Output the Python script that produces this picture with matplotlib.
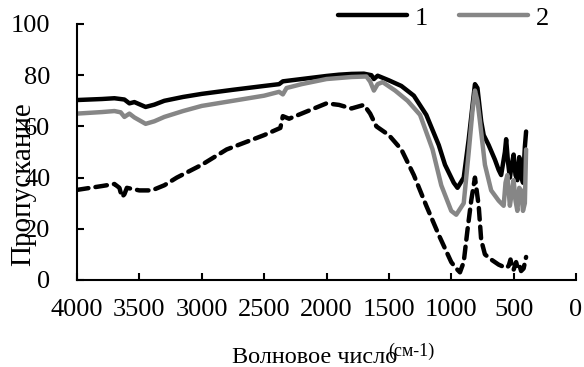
import numpy as np
import matplotlib
matplotlib.use('Agg')
import matplotlib.pyplot as plt

plt.rcParams['font.family'] = ['Liberation Serif', 'DejaVu Serif']

# IR transmission spectra, wavenumber in cm-1, transmission in %
wn1 = [4000, 3800, 3700, 3620, 3580, 3540, 3450, 3380, 3300, 3150, 3000, 2750, 2500, 2380, 2350,
       2200, 2000, 1900, 1800, 1700, 1640, 1620, 1590, 1500, 1400, 1300, 1200, 1100, 1050, 980,
       950, 900, 860, 830, 810, 790, 760, 740, 700, 650, 620, 600, 570, 560, 545, 530, 515, 500,
       485, 470, 455, 440, 425, 410, 400]
t1 = [70.3, 70.7, 71.0, 70.5, 69.0, 69.5, 67.6, 68.5, 70.0, 71.5, 72.7, 74.3, 75.8, 76.5, 77.6,
      78.5, 79.7, 80.2, 80.5, 80.6, 80.0, 78.5, 79.8, 78.0, 75.8, 72.0, 64.5, 52.7, 45.0, 38.0,
      36.0, 40.0, 55.0, 68.0, 76.5, 75.0, 62.0, 56.6, 52.7, 47.0, 43.0, 41.0, 50.0, 55.0, 46.0,
      40.0, 45.0, 49.0, 41.0, 39.0, 48.0, 41.0, 38.0, 52.0, 58.0]

wn2 = [4000, 3800, 3700, 3650, 3620, 3580, 3540, 3450, 3380, 3300, 3150, 3000, 2750, 2500, 2380,
       2350, 2320, 2200, 2000, 1800, 1680, 1650, 1620, 1590, 1550, 1450, 1350, 1250, 1150, 1080,
       1000, 960, 900, 860, 830, 810, 790, 770, 730, 680, 620, 580, 565, 550, 530, 515, 500,
       485, 470, 455, 440, 425, 410, 400]
t2 = [65.0, 65.6, 66.0, 65.5, 63.7, 65.0, 63.5, 61.0, 62.0, 63.7, 66.0, 68.0, 70.0, 72.0, 73.5,
      72.5, 75.0, 76.5, 78.5, 79.3, 79.5, 77.5, 74.0, 76.5, 77.3, 74.0, 70.0, 64.5, 51.0, 37.0,
      27.0, 25.5, 30.0, 50.0, 66.0, 74.0, 70.0, 62.0, 45.0, 35.0, 31.0, 29.0, 38.0, 41.0, 29.0,
      34.0, 39.0, 31.0, 27.0, 36.0, 35.0, 27.0, 30.0, 51.0]

wn3 = [4000, 3800, 3700, 3660, 3640, 3620, 3600, 3500, 3400, 3300, 3200, 3000, 2800, 2500, 2370,
       2350, 2300, 2100, 2000, 1900, 1800, 1700, 1650, 1600, 1500, 1400, 1300, 1200, 1100, 1000,
       960, 930, 900, 870, 840, 810, 780, 760, 730, 680, 620, 560, 540, 525, 510, 500, 480, 470,
       455, 440, 420, 400]
t3 = [35.2, 36.7, 37.5, 36.0, 32.4, 33.5, 36.0, 35.0, 35.0, 37.0, 40.0, 45.0, 51.0, 56.6, 59.4,
      64.0, 63.0, 67.0, 69.0, 68.4, 67.0, 68.4, 65.0, 60.0, 56.6, 51.0, 41.0, 29.0, 17.6, 7.0,
      4.5, 3.0, 7.0, 19.5, 31.0, 40.0, 29.0, 15.6, 10.0, 8.0, 6.0, 4.7, 5.5, 8.0, 4.5, 4.0, 7.0,
      5.0, 6.0, 3.5, 4.5, 9.0]

xticks = [4000, 3500, 3000, 2500, 2000, 1500, 1000, 500, 0]
yticks = [0, 20, 40, 60, 80, 100]

fig = plt.figure(figsize=(5.84, 3.67), dpi=100)
ax = fig.add_axes([77/584, 1 - 280/367, (576 - 77)/584, (280 - 24)/367])

ax.plot(wn1, t1, color='black', lw=3.2, solid_capstyle='round', solid_joinstyle='round', label='1')
ax.plot(wn2, t2, color='#868686', lw=3.2, solid_capstyle='round', solid_joinstyle='round', label='2')
ax.plot(wn3, t3, color='black', lw=3.2, dashes=(2.6, 1.6), dash_capstyle='round')

ax.set_xlim(4000, 0)
ax.set_ylim(0, 100)
ax.set_xticks(xticks)
ax.set_yticks(yticks)
ax.tick_params(direction='in', length=5, width=1.5, labelsize=19)
ax.tick_params(axis='x', pad=14)
ax.tick_params(axis='y', pad=19)
for s in ['top', 'right']:
    ax.spines[s].set_visible(False)
for s in ['left', 'bottom']:
    ax.spines[s].set_linewidth(1.5)

# the y label sits over the tick labels
ax.set_ylabel('Пропускание', fontsize=21)
ax.yaxis.set_label_coords(-0.082, 0.375)

fig.text(232/584, 1 - 363/367, 'Волновое число', fontsize=17.5, ha='left', va='baseline')
fig.text(388/584, 1 - 356/367, '(см-1)', fontsize=13, ha='left', va='baseline')

leg = fig.legend(loc='center left', bbox_to_anchor=(338/584, 1 - 18/367), ncol=2, frameon=False,
                 fontsize=19, handlelength=2.6, handletextpad=0.3, columnspacing=1.2,
                 borderpad=0, borderaxespad=0)

fig.savefig('out.png', dpi=100)
